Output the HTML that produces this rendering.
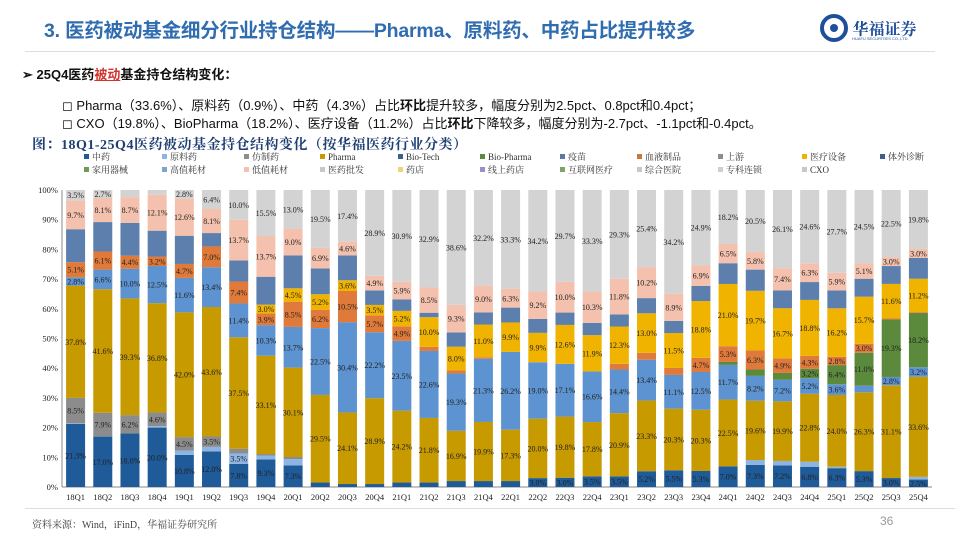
<!DOCTYPE html>
<html><head><meta charset="utf-8">
<style>
body{margin:0;width:960px;height:540px;background:#fff;overflow:hidden;font-family:"Liberation Sans","Noto Sans CJK SC",sans-serif;position:relative}
.abs{position:absolute;white-space:nowrap}
</style></head><body>
<div class="abs" style="left:44px;top:14px;font-size:19.5px;font-weight:bold;color:#2f6db0;letter-spacing:-0.2px">3. 医药被动基金细分行业持仓结构——Pharma、原料药、中药占比提升较多</div>
<div class="abs" style="left:820px;top:14px;">
 <svg width="28" height="28" viewBox="0 0 28 28" style="vertical-align:middle"><circle cx="14" cy="14" r="12" fill="none" stroke="#1f4e9a" stroke-width="4"/><circle cx="14" cy="14" r="4" fill="#1f4e9a"/></svg>
 <span style="font-size:16px;font-weight:bold;color:#1f4e9a;font-family:'Noto Serif CJK SC',serif;vertical-align:middle">华福证券</span>
 <div style="font-size:4px;color:#1f4e9a;margin-left:32px;margin-top:-6px">HUAFU SECURITIES CO.,LTD.</div>
</div>
<div class="abs" style="left:25px;top:51px;width:910px;height:1px;background:#ddd"></div>
<div class="abs" style="left:22px;top:64px;font-size:13px;font-weight:bold;color:#111">➢ 25Q4医药<span style="color:#d0342c;text-decoration:underline">被动</span>基金持仓结构变化：</div>
<div class="abs" style="left:62px;top:95px;font-size:13px;color:#111">◻ Pharma（33.6%）、原料药（0.9%）、中药（4.3%）占比<b>环比</b>提升较多，幅度分别为2.5pct、0.8pct和0.4pct；</div>
<div class="abs" style="left:62px;top:113px;font-size:13px;color:#111">◻ CXO（19.8%）、BioPharma（18.2%）、医疗设备（11.2%）占比<b>环比</b>下降较多，幅度分别为-2.7pct、-1.1pct和-0.4pct。</div>
<div class="abs" style="left:32px;top:134px;font-size:14px;font-weight:bold;color:#1f3f73;font-family:'Liberation Serif','Noto Serif CJK SC',serif;letter-spacing:0.5px">图：18Q1-25Q4医药被动基金持仓结构变化（按华福医药行业分类）</div>
<svg id="chart" class="abs" style="left:0;top:0" width="960" height="540"></svg>
<div class="abs" style="left:25px;top:508px;width:930px;height:1px;background:#ddd"></div>
<div class="abs" style="left:32px;top:516px;font-size:10px;color:#444;font-family:'Liberation Serif','Noto Serif CJK SC',serif">资料来源：Wind，iFinD，华福证券研究所</div>
<div class="abs" style="left:880px;top:514px;font-size:12px;color:#999">36</div>
<script>
const categories=["18Q1","18Q2","18Q3","18Q4","19Q1","19Q2","19Q3","19Q4","20Q1","20Q2","20Q3","20Q4","21Q1","21Q2","21Q3","21Q4","22Q1","22Q2","22Q3","22Q4","23Q1","23Q2","23Q3","23Q4","24Q1","24Q2","24Q3","24Q4","25Q1","25Q2","25Q3","25Q4"];
const zhongyao=[21.3,17.0,18.0,20.0,10.8,12.0,7.8,9.3,7.3,1.5,1.0,1.0,1.5,1.5,2.0,2.0,2.0,3.0,3.0,3.5,3.5,5.2,5.5,5.3,7.0,7.3,7.2,6.8,6.3,5.3,3.0,2.5];
const yuanliaoyao=[0.2,0.1,0.0,0.5,1.5,1.5,3.5,1.3,2.1,0,0,0,0,0,0,0,0,0,0,0,0,0,0,0,0,1.6,1.5,1.7,0.5,0,0,0.9];
const fangzhiyao=[8.5,7.9,6.2,4.6,4.5,3.5,1.6,0.5,0.7,0,0,0,0,0,0,0,0,0,0,0,0,0,0,0,0,0,0,0,0,0,0,0];
const pharma=[37.8,41.6,39.3,36.8,42.0,43.6,37.5,33.1,30.1,29.5,24.1,28.9,24.2,21.8,16.9,19.9,17.3,20.0,19.8,17.8,20.9,23.3,20.3,20.3,22.5,19.6,19.9,22.8,24.0,26.3,31.1,33.6];
const biotech=[2.8,6.6,10.0,12.5,11.6,13.4,11.4,10.3,13.7,22.5,30.4,22.2,23.5,22.6,19.3,21.3,26.2,19.0,17.1,16.6,14.4,13.4,11.1,12.5,11.7,8.2,7.2,5.2,3.6,2.2,2.8,3.2];
const biopharma=[0,0,0,0,0,0,0,0,0,0,0,0,0,0,0,0,0,0,0,0,0,0,0,0,1.0,2.1,2.3,3.2,6.4,11.0,19.3,18.2];
const xueye=[5.1,6.1,4.4,3.2,4.7,7.0,7.4,3.9,8.5,6.2,10.5,5.7,4.9,1.4,1.0,0.5,0,0,0,0,1.9,2.3,2.3,4.7,5.3,6.3,4.9,4.3,2.8,3.0,0.3,0.3];
const shebei=[0,0,0,0,0,0,0,3.0,4.5,5.2,3.6,3.5,5.2,10.0,8.0,11.0,9.9,9.9,12.6,11.9,12.3,13.0,11.5,18.8,21.0,19.7,16.7,18.8,16.2,15.7,11.6,11.2];
const others=[11.1,9.9,11.0,8.7,9.5,4.5,7.1,9.4,11.1,8.7,8.4,4.9,3.9,1.5,4.8,4.1,5.0,4.7,4.0,4.0,4.0,5.0,4.0,5.0,7.0,7.0,6.0,6.0,6.0,6.0,6.0,7.0];
const dizhi=[9.7,8.1,8.7,12.1,12.6,8.1,13.7,13.7,9.0,6.9,4.6,4.9,5.9,8.5,9.3,9.0,6.3,9.2,10.0,10.3,11.8,10.2,8.9,6.9,6.5,5.8,7.4,6.3,5.9,5.1,3.0,3.0];
const cxo=[3.5,2.7,2.4,1.6,2.8,6.4,10.0,15.5,13.0,19.5,17.4,28.9,30.9,32.9,38.6,32.2,33.3,34.2,29.7,33.3,29.3,25.4,34.2,24.9,18.2,20.5,26.1,24.6,27.7,24.5,22.5,19.8];
const yTicks=[0,10,20,30,40,50,60,70,80,90,100];
const legendNames=["中药","原料药","仿制药","Pharma","Bio-Tech","Bio-Pharma","疫苗","血液制品","上游","医疗设备","体外诊断","家用器械","高值耗材","低值耗材","医药批发","药店","线上药店","互联网医疗","综合医院","专科连锁","CXO"];
const legendColors=["#1f5a99","#8db4e2","#8c8c8c","#c79a00","#3e5f8a","#5b8a3c","#5878a8","#c97a3a","#8c8c8c","#f0b400","#3e5f8a","#6f9a52","#7fa6c9","#f3c1ad","#c8c8c8","#f0d27a","#9a8fc9","#7fa36a","#c8c8c8","#cfcfcf","#c8c8c8"];

const series=[
 {name:"zhongyao",v:zhongyao,c:"#1f5a99",t:"#222"},
 {name:"yuanliaoyao",v:yuanliaoyao,c:"#8db4e2",t:"#222"},
 {name:"fangzhiyao",v:fangzhiyao,c:"#8c8c8c",t:"#222"},
 {name:"pharma",v:pharma,c:"#c79a00",t:"#222"},
 {name:"biotech",v:biotech,c:"#5d93d0",t:"#222"},
 {name:"biopharma",v:biopharma,c:"#5b8a3c",t:"#222"},
 {name:"xueye",v:xueye,c:"#e07a3a",t:"#222"},
 {name:"shebei",v:shebei,c:"#f0b400",t:"#222"},
 {name:"others",v:others,c:"#5d7fae",t:"#111"},
 {name:"dizhi",v:dizhi,c:"#f3c1ad",t:"#222"},
 {name:"cxo",v:cxo,c:"#d3d3d3",t:"#222"}
];
const NS="http://www.w3.org/2000/svg";
const svg=document.getElementById("chart");
const X0=62,X1=932,Y0=487,Y1=190;
const step=(X1-X0)/categories.length,bw=19;
function xc(i){return X0+step*(i+0.5);}
function yv(p){return Y0-(Y0-Y1)*p/100;}
function mk(tag,attrs){const e=document.createElementNS(NS,tag);for(const k in attrs)e.setAttribute(k,attrs[k]);svg.appendChild(e);return e;}
yTicks.forEach(t=>{
 const tx=mk("text",{x:X0-4,y:yv(t)+3,"text-anchor":"end","font-size":"8.5","font-family":"Liberation Serif,serif",fill:"#222"});
 tx.textContent=t+"%";
 
 
});
const ax=mk("line",{x1:X0,x2:X0,y1:Y1,y2:Y0,stroke:"#888","stroke-width":1});


const xa=mk("line",{x1:X0,x2:X1,y1:Y0,y2:Y0,stroke:"#888","stroke-width":1});


categories.forEach((c,i)=>{
 const total=series.reduce((s,se)=>s+se.v[i],0);
 let cum=0;
 series.forEach(se=>{
  const val=se.v[i];
  if(val<=0)return;
  const p0=cum/total*100,p1=(cum+val)/total*100;cum+=val;
  const r=mk("rect",{x:xc(i)-bw/2,y:yv(p1),width:bw,height:yv(p0)-yv(p1),fill:se.c});
  
  
  if(val>=2.5&&se.name!=="others"){
   const lt=mk("text",{x:xc(i),y:(yv(p0)+yv(p1))/2+3,"text-anchor":"middle","font-size":"8","font-family":"Liberation Serif,serif",fill:se.t});
   lt.textContent=val.toFixed(1)+"%";
   
   
  }
 });
 const xl=mk("text",{x:xc(i),y:Y0+13,"text-anchor":"middle","font-size":"8.5","font-family":"Liberation Serif,serif",fill:"#222"});
 xl.textContent=c;
 
 
});
const colX=[84,162,244,320,398,480,560,637,718,802,880];
legendNames.forEach((n,k)=>{
 const row=k<11?0:1,col=k<11?k:k-11;
 const x=colX[col],y=row?173:160;
 const sq=mk("rect",{x:x,y:y-6,width:5,height:5,fill:legendColors[k]});
 
 
 const t=mk("text",{x:x+8,y:y,"font-size":"9","font-family":"Liberation Serif,Noto Serif CJK SC,serif",fill:"#333"});
 t.textContent=n;
 
 
});
</script>
</body></html>
